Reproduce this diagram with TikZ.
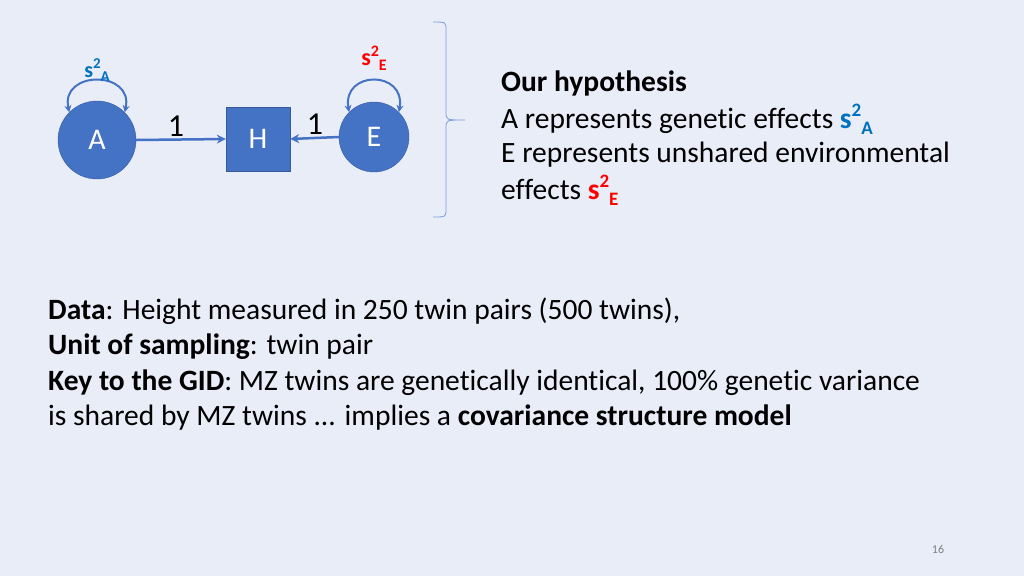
\documentclass[tikz,border=0pt]{standalone}
\usepackage{fontspec}
\setmainfont[Ligatures={NoCommon}]{Carlito}
\usetikzlibrary{arrows.meta}
\definecolor{bg}{HTML}{E9EDF8}
\definecolor{nb}{HTML}{4472C4}
\definecolor{sb}{HTML}{0070C0}
\definecolor{sr}{HTML}{FF0000}
\newcommand{\sq}[2]{{\fontsize{#1}{#1}\selectfont\bfseries s\raisebox{0.45em}{\fontsize{#2}{#2}\selectfont 2}\raisebox{-0.25em}{\fontsize{#2}{#2}\selectfont #2x}}}
\newcommand{\ssq}[3]{{\fontsize{#1}{#1}\selectfont\bfseries s\raisebox{0.4em}{\fontsize{#2}{#2}\selectfont 2}\raisebox{-0.2em}{\fontsize{#2}{#2}\selectfont #3}}}
\begin{document}
\begin{tikzpicture}[x=1pt,y=-1pt,
  circ/.style={circle,fill=nb,draw=nb!80!black,inner sep=0,minimum size=#1,text=white,font=\fontsize{30}{30}\selectfont},
  sqn/.style={rectangle,fill=nb,draw=nb!80!black,minimum size=64,text=white,font=\fontsize{30}{30}\selectfont},
  con/.style={draw=nb,line width=2.5pt,-{Stealth[length=9pt,width=9pt]}},
  loopc/.style={draw=nb,line width=2pt,{Stealth[length=7pt,width=7pt]}-{Stealth[length=7pt,width=7pt]}},
  txt/.style={anchor=west,inner sep=0,font=\fontsize{29.5}{29.5}\selectfont},
  lbl/.style={font=\fontsize{32}{32}\selectfont}]
\fill[bg] (0,0) rectangle (1024,576);
\useasboundingbox (0,0) rectangle (1024,576);
\node[circ=78] (A) at (97,140) {A};
\node[sqn] (H) at (258,139) {H};
\node[circ=70] (E) at (374,137) {E};
\draw[con] (A.east) -- (H.west);
\draw[con] (E.west) -- (H.east);
\node[lbl] (l1) at (176,126) {1};
\node[lbl] (l2) at (315,124) {1};
\draw[loopc] (A.135) .. controls (60,70) and (134,70) .. (A.45);
\draw[loopc] (E.135) .. controls (342,70) and (406,70) .. (E.45);
\node[text=sb] (sA) at (97,70) {\ssq{22}{15}{A}};
\node[text=sr] (sE) at (374,58) {\ssq{24}{16}{E}};
\draw[nb!70,line width=0.8pt] (433,22) .. controls (446,22) and (446,22) .. (446,30) -- (446,112) .. controls (446,120) .. (465,120) .. controls (446,120) .. (446,128) -- (446,209) .. controls (446,217) and (446,217) .. (433,217);
\node[txt] (t1) at (501,83) {\bfseries Our hypothesis};
\node[txt] (t2) at (501,119) {A represents genetic effects \textcolor{sb}{\ssq{29.5}{19}{A}}};
\node[txt] (t3) at (501,155) {E represents unshared environmental};
\node[txt] (t4) at (501,190) {effects \textcolor{sr}{\ssq{29.5}{19}{E}}};
\node[txt] (b1) at (48,311) {\bfseries Data\mdseries: Height measured in 250 twin pairs (500 twins),};
\node[txt] (b2) at (48,347) {\bfseries Unit of sampling\mdseries: twin pair};
\node[txt] (b3) at (48,383) {\bfseries Key to the GID\mdseries: MZ twins are genetically identical, 100\% genetic variance};
\node[txt] (b4) at (48,418) {is shared by MZ twins ... implies a \bfseries covariance structure model};
\node[font=\fontsize{12}{12}\selectfont,text=gray] (pg) at (938,549) {16};
\end{tikzpicture}
\end{document}
